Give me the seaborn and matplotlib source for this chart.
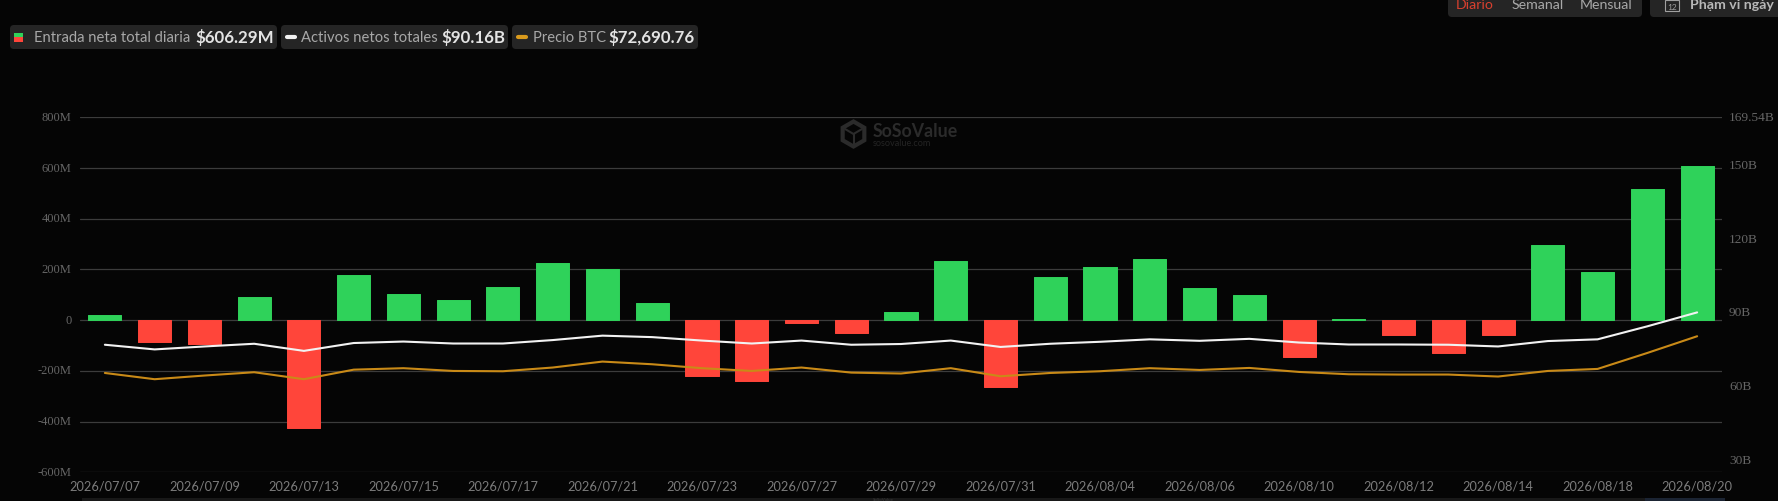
"""
SoSoValue style daily ETF flow chart: flow bars, net assets line, BTC price line.
"""

import matplotlib
matplotlib.use('Agg')
import matplotlib.pyplot as plt
from matplotlib.patches import FancyBboxPatch, RegularPolygon, Rectangle
from matplotlib.transforms import ScaledTranslation
import pandas as pd
import seaborn as sns

dates = [
    '2026/07/07', '2026/07/08', '2026/07/09', '2026/07/10', '2026/07/13', '2026/07/14',
    '2026/07/15', '2026/07/16', '2026/07/17', '2026/07/20', '2026/07/21', '2026/07/22',
    '2026/07/23', '2026/07/24', '2026/07/27', '2026/07/28', '2026/07/29', '2026/07/30',
    '2026/07/31', '2026/08/03', '2026/08/04', '2026/08/05', '2026/08/06', '2026/08/07',
    '2026/08/10', '2026/08/11', '2026/08/12', '2026/08/13', '2026/08/14', '2026/08/17',
    '2026/08/18', '2026/08/19', '2026/08/20',
]
# Daily net inflow, $M
flows = [
    20, -85, -95, 90, -425, 180, 105, 78, 130, 225, 203, 68, -222, -238, -12, -50, 32,
    232, -262, 170, 210, 242, 128, 98, -145, 5, -60, -130, -58, 297, 188, 517, 606.29,
]
# Total net assets, $B
assets = [
    77.0, 75.1, 76.3, 77.4, 74.5, 77.7, 78.3, 77.5, 77.5, 78.9, 80.7, 80.1, 78.7, 77.5,
    78.7, 77.0, 77.3, 78.7, 76.1, 77.4, 78.2, 79.2, 78.6, 79.4, 77.9, 77.1, 77.1, 77.0,
    76.3, 78.5, 79.2, 84.5, 90.16,
]
btc_price = [
    62700, 61000, 62000, 62900, 61000, 63600, 64000, 63250, 63170, 64180, 65800, 65070,
    64000, 63250, 64180, 62800, 62550, 64000, 61800, 62700, 63170, 64000, 63520, 64070,
    62980, 62350, 62270, 62270, 61730, 63250, 63800, 68150, 72690.76,
]
flow_ticks = [-600, -400, -200, 0, 200, 400, 600, 800]
flow_tick_labels = ['-600M', '-400M', '-200M', '0', '200M', '400M', '600M', '800M']
asset_ticks = [30, 60, 90, 120, 150, 169.54]
asset_tick_labels = ['30B', '60B', '90B', '120B', '150B', '169.54B']

BG = '#050505'
GREEN = '#2fd25a'
RED = '#ff453a'
WHITE = '#f2f2f2'
ORANGE = '#c98a17'
GRID = '#3c3c3c'
TICK = '#666666'
CHIP = '#252525'

sns.set_theme(style='dark', rc={'figure.facecolor': BG, 'savefig.facecolor': BG})
plt.rcParams['font.family'] = ['Lato', 'DejaVu Sans']

W, H = 1778, 502
fig = plt.figure(figsize=(W / 100, H / 100), dpi=100)

# Full figure axes in pixels for the page furniture
page = fig.add_axes([0, 0, 1, 1], zorder=0)
page.set_xlim(0, W)
page.set_ylim(H, 0)
page.axis('off')

ax = fig.add_axes([80 / W, 1 - 473.3 / H, 1642 / W, 355 / H], zorder=1)
ax.patch.set_visible(False)

df = pd.DataFrame({'date': dates, 'flow': flows, 'assets': assets, 'btc': btc_price})
df['side'] = ['in' if v >= 0 else 'out' for v in df['flow']]
df['pos'] = range(len(df))

sns.barplot(data=df, x='date', y='flow', hue='side', palette={'in': GREEN, 'out': RED},
            dodge=False, width=0.665, saturation=1, errorbar=None, legend=False, ax=ax)
# Round corners a little
for bar in ax.patches:
    bar.set_edgecolor(bar.get_facecolor())
    bar.set_linewidth(0.7)
    bar.set_joinstyle('round')

ax.set_xlim(-0.5, len(dates) - 0.5)
ax.set_ylim(-600, 800)
ax.set_xticks(range(0, len(dates), 2))
ax.set_xticklabels(dates[::2], fontsize=9.2, color='#7c7c7c')
ax.set_yticks(flow_ticks)
ax.set_yticklabels(flow_tick_labels, fontsize=9, color=TICK, family='Liberation Serif')
ax.tick_params(axis='both', length=0)
ax.tick_params(axis='y', pad=6)
ax.tick_params(axis='x', pad=5)
ax.set_xlabel('')
ax.set_ylabel('')
ax.set_axisbelow(True)
ax.grid(axis='y', color=GRID, linewidth=0.9)
ax.grid(axis='x', visible=False)
for spine in ax.spines.values():
    spine.set_visible(False)

# Net assets on the visible right axis
ax2 = ax.twinx()
sns.lineplot(data=df, x='pos', y='assets', color=WHITE, linewidth=1.5, errorbar=None, ax=ax2)
ax2.set_ylim(25.1, 169.54)
ax2.set_yticks(asset_ticks)
ax2.set_yticklabels(asset_tick_labels, fontsize=9.6, color=TICK, family='Liberation Serif')
ax2.tick_params(axis='y', length=0, pad=5)
ax2.set_ylabel('')
ax2.grid(False)
for spine in ax2.spines.values():
    spine.set_visible(False)

# Axis labels sit a touch above their lines in the original
nudge = ScaledTranslation(0, 2 / 100, fig.dpi_scale_trans)
for tick_label in ax.get_yticklabels() + ax2.get_yticklabels():
    tick_label.set_transform(tick_label.get_transform() + nudge)

# BTC price has its own hidden scale
ax3 = ax.twinx()
sns.lineplot(data=df, x='pos', y='btc', color=ORANGE, linewidth=1.5, errorbar=None, ax=ax3)
ax3.set_ylim(35670, 132270)
ax3.axis('off')


def chip(x0, x1, y0, y1):
    page.add_patch(FancyBboxPatch((x0 + 4, y0 + 4), x1 - x0 - 8, y1 - y0 - 8,
                                  boxstyle='round,pad=4,rounding_size=4',
                                  facecolor=CHIP, edgecolor='none'))


def label(x, y, text, size=10.6, color='#a8a8a8', weight='normal'):
    page.text(x, y, text, fontsize=size, color=color, fontweight=weight, va='center', ha='left')


# Legend chips
chip(10, 277, 26, 50)
chip(281, 508, 26, 50)
chip(512, 698, 26, 50)
page.add_patch(Rectangle((13.5, 34), 9, 4, facecolor=GREEN, edgecolor='none'))
page.add_patch(Rectangle((13.5, 38), 9, 4.5, facecolor=RED, edgecolor='none'))
page.plot([287, 295], [38, 38], color=WHITE, linewidth=3, solid_capstyle='round')
page.plot([518, 526], [38, 38], color='#d99a1c', linewidth=3, solid_capstyle='round')
label(34, 38, 'Entrada neta total diaria')
label(195, 38, '$606.29M', 12.2, '#e4e4e4', 'bold')
label(301, 38, 'Activos netos totales')
label(441, 38, '$90.16B', 12.2, '#e4e4e4', 'bold')
label(533, 38, 'Precio BTC')
label(608, 38, '$72,690.76', 12.2, '#e4e4e4', 'bold')

# Top right controls, cut off by the page edge
chip(1448, 1642, -12, 18)
chip(1650, 1800, -12, 18)
label(1456, 5, 'Diario', 10.2, '#d8402f')
label(1512, 5, 'Semanal', 10.2)
label(1580, 5, 'Mensual', 10.2)
page.add_patch(Rectangle((1665, 1), 14, 11, facecolor='none', edgecolor='#a0a0a0', linewidth=0.8))
page.text(1672, 7, '12', fontsize=6, color='#a0a0a0', ha='center', va='center')
label(1690, 5, 'Phạm vi ngày', 10.2, '#b8b8b8', 'bold')

# Watermark
page.add_patch(RegularPolygon((853.5, 135), 6, radius=12.5, facecolor='none',
                              edgecolor='#2b2b2b', linewidth=3))
page.plot([845, 853.5, 862], [130, 135, 130], color='#2b2b2b', linewidth=1.5)
page.plot([853.5, 853.5], [135, 146], color='#2b2b2b', linewidth=1.5)
page.text(873, 132, 'SoSoValue', fontsize=12.8, color='#2b2b2b', fontweight='bold', va='center')
page.text(873, 144, 'sosovalue.com', fontsize=6.6, color='#242424', va='center')

# Range slider peeking in at the bottom
page.add_patch(Rectangle((82, 499), 1640, 4, facecolor='#181818', edgecolor='none'))
page.add_patch(Rectangle((1645, 499), 80, 4, facecolor='#1b2433', edgecolor='none'))
page.text(873, 500, 'SoSoValue', fontsize=3.2, color='#333333', fontweight='bold', va='center')

fig.savefig('out.png', dpi=100)
